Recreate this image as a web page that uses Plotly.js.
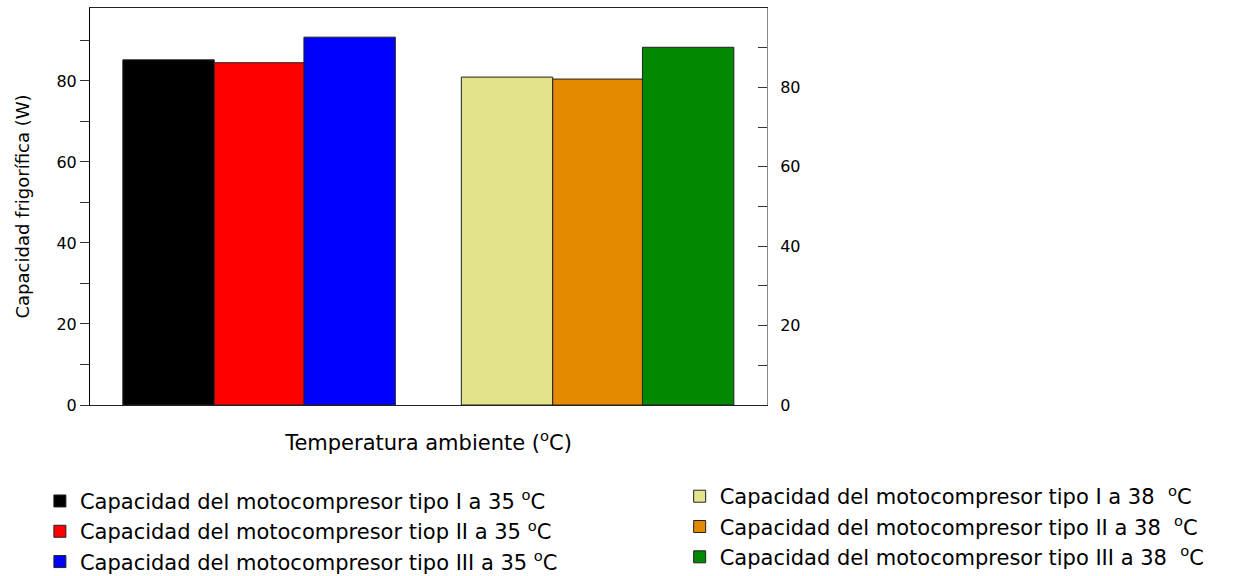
<!DOCTYPE html>
<html>
<head>
<meta charset="utf-8">
<script src="https://cdn.plot.ly/plotly-3.0.1.min.js"></script>
<style>html,body{margin:0;padding:0;background:#fff;}#chart{width:1257px;height:576px;}</style>
</head>
<body>
<div id="chart"></div>
<script>
const groups = ['35 °C', '38 °C'];
const names35 = [
  'Capacidad del motocompresor tipo I a 35 <sup>o</sup>C',
  'Capacidad del motocompresor tiop II a 35 <sup>o</sup>C',
  'Capacidad del motocompresor tipo III a 35 <sup>o</sup>C'
];
const values35 = [85.2, 84.5, 90.8];
const names38 = [
  'Capacidad del motocompresor tipo I a 38  <sup>o</sup>C',
  'Capacidad del motocompresor tipo II a 38  <sup>o</sup>C',
  'Capacidad del motocompresor tipo III a 38  <sup>o</sup>C'
];
const values38 = [82.6, 82.1, 90.1];
const colors35 = ['#000000', '#ff0000', '#0000ff'];
const colors38 = ['#e3e38b', '#e48a00', '#008800'];
const offsets = [-0.403, -0.133, 0.132];
const barWidth = 0.27;

const FONT = 'DejaVu Sans, Liberation Sans, Arial, sans-serif';
const traces = [];
names35.forEach((n, i) => {
  traces.push({
    type: 'bar', name: n, x: [groups[0]], y: [values35[i]],
    xaxis: 'x', yaxis: 'y', width: barWidth, offset: offsets[i],
    marker: {color: colors35[i], line: {color: '#222', width: 1}},
    legend: 'legend'
  });
});
names38.forEach((n, i) => {
  traces.push({
    type: 'bar', name: n, x: [groups[1]], y: [values38[i]],
    xaxis: 'x', yaxis: 'y2', width: barWidth, offset: offsets[i],
    marker: {color: colors38[i], line: {color: '#222', width: 1}},
    legend: 'legend2'
  });
});

const layout = {
  width: 1257, height: 576,
  margin: {l: 90, r: 490, t: 8, b: 171, autoexpand: false},
  paper_bgcolor: '#fff', plot_bgcolor: '#fff',
  barmode: 'overlay',
  font: {family: FONT, color: '#000'},
  xaxis: {
    type: 'category', categoryarray: groups, range: [-0.5, 1.5],
    showticklabels: false, ticks: '', showgrid: false, zeroline: false,
    showline: true, linecolor: '#222', linewidth: 1, mirror: true,
    title: {text: 'Temperatura ambiente (<sup>o</sup>C)', font: {size: 21, family: FONT}, standoff: 30}
  },
  yaxis: {
    range: [0, 98], dtick: 20, tick0: 0, ticks: 'outside', ticklen: 9, tickcolor: '#333',
    minor: {dtick: 10, ticks: 'outside', ticklen: 9, tickcolor: '#333'},
    showgrid: false, zeroline: false, showline: true, linecolor: '#000', linewidth: 1,
    tickfont: {size: 16, family: FONT},
    title: {text: 'Capacidad frigorífica (W)', font: {size: 18, family: FONT}, standoff: 22}
  },
  yaxis2: {
    overlaying: 'y', side: 'right', range: [0, 100], dtick: 20, tick0: 0,
    ticks: 'inside', ticklen: 9, tickcolor: '#333', ticklabelstandoff: 9,
    minor: {dtick: 10, ticks: 'inside', ticklen: 9, tickcolor: '#333'},
    showgrid: false, zeroline: false, showline: true, linecolor: '#888', linewidth: 1,
    tickfont: {size: 16, family: FONT}
  },
  legend: {
    x: -0.074, xanchor: 'left', y: -0.191, yanchor: 'top',
    font: {size: 21, family: FONT}, bgcolor: 'rgba(0,0,0,0)', tracegroupgap: 0
  },
  legend2: {
    x: 0.871, xanchor: 'left', y: -0.179, yanchor: 'top',
    font: {size: 21, family: FONT}, bgcolor: 'rgba(0,0,0,0)', tracegroupgap: 0
  },
  showlegend: true
};

Plotly.newPlot('chart', traces, layout, {displayModeBar: false, staticPlot: true});
</script>
</body>
</html>
